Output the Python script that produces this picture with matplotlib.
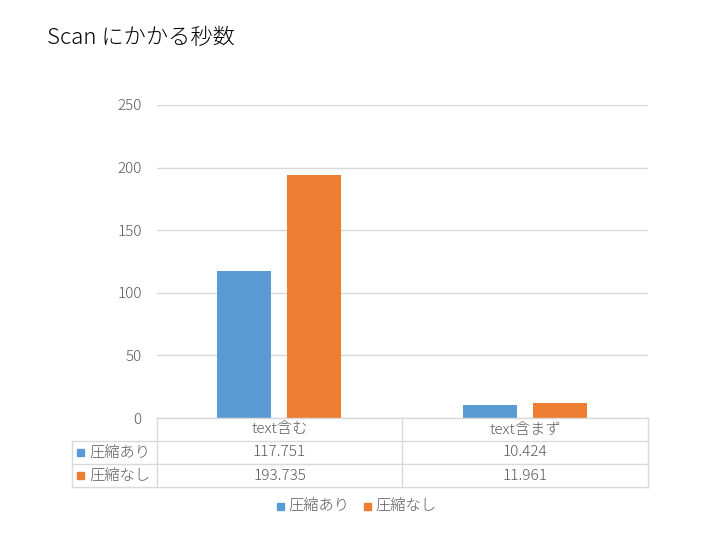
import matplotlib
matplotlib.use("Agg")
import matplotlib.pyplot as plt
from matplotlib.lines import Line2D
from matplotlib.patches import Rectangle
import numpy as np

plt.rcParams['font.family'] = ['Noto Sans CJK JP', 'DejaVu Sans']
plt.rcParams['font.weight'] = 'light'

title = "Scan にかかる秒数"
categories = ["text含む", "text含まず"]
series_names = ["圧縮あり", "圧縮なし"]
with_comp = [117.751, 10.424]
without_comp = [193.735, 11.961]
colors = ["#5B9BD5", "#ED7D31"]
yticks = [0, 50, 100, 150, 200, 250]

W, H = 720, 540
fig = plt.figure(figsize=(7.2, 5.4), dpi=100)
def fx(px): return px / W
def fy(py): return 1 - py / H

ax_l, ax_r, ax_t, ax_b = 157, 648, 105, 418
ax = fig.add_axes([fx(ax_l), fy(ax_b), fx(ax_r - ax_l), (ax_b - ax_t) / H])
x = np.arange(len(categories)) + 0.5
bw = 0.22
ax.bar(x - 0.145, with_comp, bw, color=colors[0], zorder=3)
ax.bar(x + 0.14, without_comp, bw, color=colors[1], zorder=3)
ax.set_xlim(0, len(categories))
ax.set_ylim(0, 250)
ax.set_yticks(yticks)
ax.set_yticklabels([str(t) for t in yticks], color="#595959", fontsize=11)
ax.tick_params(axis='y', length=0, pad=11)
ax.set_xticks([])
for s in ax.spines.values():
    s.set_visible(False)
ax.grid(axis='y', color="#D9D9D9", linewidth=1, zorder=0)

fig.text(fx(47), fy(38), title, fontsize=16, color="#000000", va='center', ha='left')

# data table
grid_c = "#D9D9D9"
rows_y = [418, 441, 464, 487]
cols_x = [72, 157, 402, 648]
def hline(y, x0, x1):
    fig.add_artist(Line2D([fx(x0), fx(x1)], [fy(y), fy(y)], color=grid_c, lw=1))
def vline(xp, y0, y1):
    fig.add_artist(Line2D([fx(xp), fx(xp)], [fy(y0), fy(y1)], color=grid_c, lw=1))
hline(418, 157, 648)
for y in rows_y[1:]:
    hline(y, 72, 648)
vline(72, 441, 487)
for xp in cols_x[1:]:
    vline(xp, 418, 487)

tc = "#595959"
fs = 11
for j, c in enumerate(categories):
    cx = (cols_x[j + 1] + cols_x[j + 2]) / 2
    fig.text(fx(cx), fy(429.5), c, ha='center', va='center', fontsize=fs, color=tc)
for i, (name, vals) in enumerate(zip(series_names, [with_comp, without_comp])):
    cy = (rows_y[i + 1] + rows_y[i + 2]) / 2
    fig.add_artist(Rectangle((fx(77), fy(cy + 3.5)), fx(7), 7 / H, color=colors[i]))
    fig.text(fx(89), fy(cy), name, ha='left', va='center', fontsize=fs, color=tc)
    for j, v in enumerate(vals):
        cx = (cols_x[j + 1] + cols_x[j + 2]) / 2
        fig.text(fx(cx), fy(cy), f"{v:.3f}", ha='center', va='center', fontsize=fs, color=tc)

# legend
lx = [277, 364]
for i, name in enumerate(series_names):
    fig.add_artist(Rectangle((fx(lx[i]), fy(506 + 3.5)), fx(7), 7 / H, color=colors[i]))
    fig.text(fx(lx[i] + 11), fy(506), name, ha='left', va='center', fontsize=fs, color=tc)

fig.savefig("out.png", dpi=100)
